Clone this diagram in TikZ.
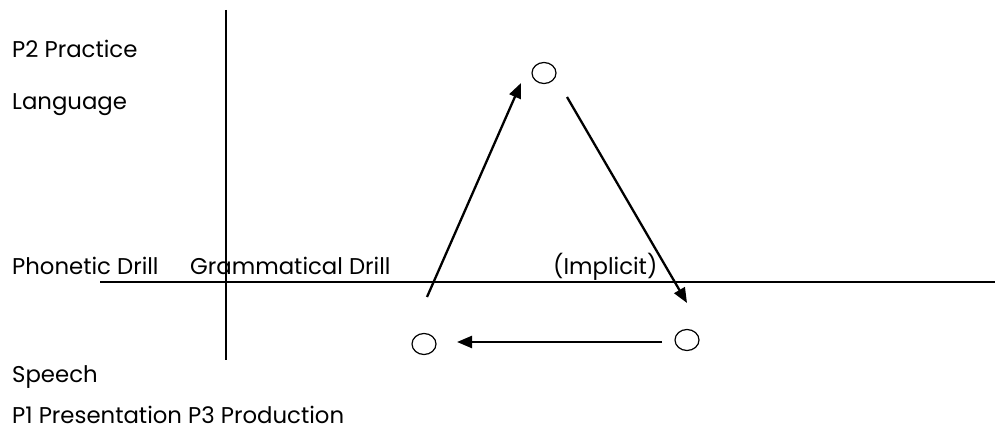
\documentclass[tikz,border=0pt]{standalone}
\usepackage{fontspec}
\newfontfamily\lblfont{Poppins}
\usetikzlibrary{arrows.meta,shapes.geometric}
\begin{document}
\begin{tikzpicture}[x=1pt,y=-1pt,
  lbl/.style={anchor=base west,inner sep=0pt,font=\lblfont\fontsize{22.8}{26}\selectfont},
  axis/.style={line width=1.3pt},
  flow/.style={line width=2.3pt,-{Triangle[length=15pt,width=12pt]}},
  pt/.style={draw,ellipse,line width=1.2pt,minimum width=24pt,minimum height=21pt,inner sep=0pt}]
\useasboundingbox (0,0) rectangle (995,438);
\draw[axis] (100,282) -- (995,282);
\draw[axis] (226,10) -- (226,360);
\node[pt] (top) at (544,73) {};
\node[pt] (bl) at (424,344) {};
\node[pt] (br) at (687,340) {};
\coordinate (a1s) at (427,297);
\coordinate (a1e) at (521,83);
\coordinate (a2s) at (567,97);
\coordinate (a2e) at (687,303);
\coordinate (a3s) at (662,342);
\coordinate (a3e) at (457,342);
\draw[flow] (a1s) -- (a1e);
\draw[flow] (a2s) -- (a2e);
\draw[flow] (a3s) -- (a3e);
\node[lbl] (p2) at (12,58) {P2 Practice};
\node[lbl] (lang) at (12,110) {Language};
\node[lbl] (pd) at (12,274) {Phonetic Drill};
\node[lbl] (gd) at (190,274) {Grammatical Drill};
\node[lbl] (imp) at (553,274) {(Implicit)};
\node[lbl] (sp) at (12,382) {Speech};
\node[lbl] (pp) at (12,423) {P1 Presentation P3 Production};
\end{tikzpicture}
\end{document}
